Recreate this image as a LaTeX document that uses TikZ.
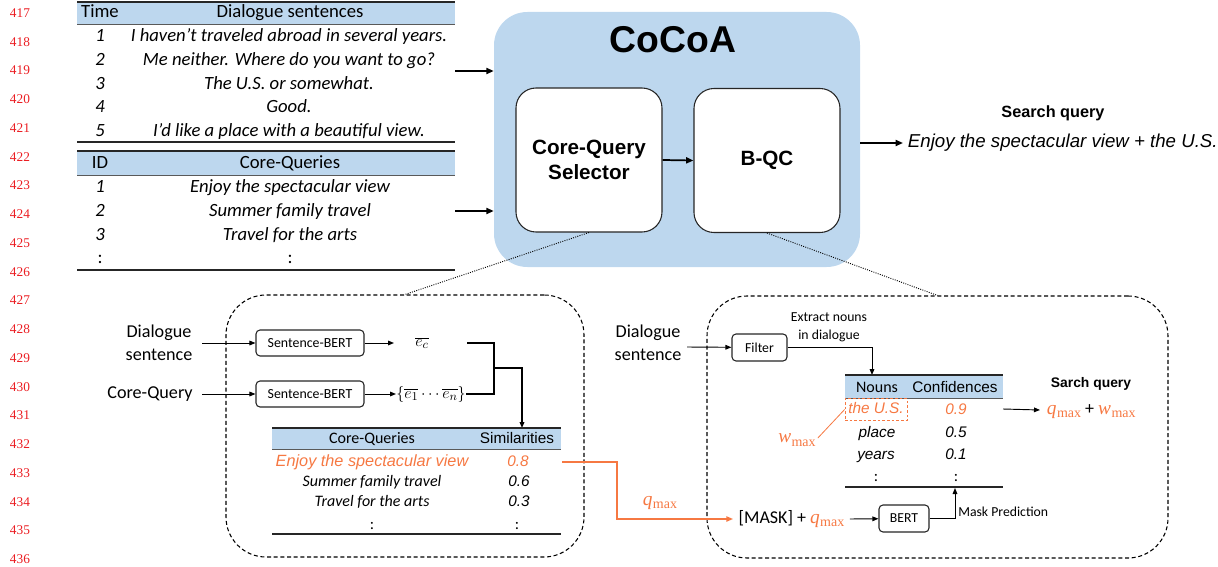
\documentclass[tikz,border=0pt]{standalone}
\usepackage[no-math]{fontspec}
\setmainfont{Carlito}
\newfontfamily\arial{Liberation Sans}
\newfontfamily\tms{Liberation Serif}
\usetikzlibrary{arrows.meta}
\definecolor{hdr}{RGB}{189,215,238}
\definecolor{org}{RGB}{246,120,66}
\definecolor{lnred}{RGB}{235,30,35}
\newcommand{\fsz}[2]{\fontsize{#1}{#2}\selectfont}
\newcommand{\qmx}{{\color{org}\tms\fsz{14.5}{17}\itshape q\kern0.3pt\raisebox{-2.6pt}{\fsz{10.5}{12}\upshape max}}}
\newcommand{\wmx}{{\color{org}\tms\fsz{14.5}{17}\itshape w\kern0.3pt\raisebox{-2.6pt}{\fsz{10.5}{12}\upshape max}}}
\begin{document}
\begin{tikzpicture}[x=0.75pt,y=-0.75pt,
  tt/.style={inner sep=0pt,text height=0.75em,text depth=0.1em},
  big/.style={tt,font=\fsz{14}{17}},
  bigi/.style={tt,font=\fsz{14}{17}\itshape},
  mid/.style={tt,font=\fsz{12}{14}},
  midi/.style={tt,font=\fsz{12}{14}\itshape},
  amid/.style={tt,font=\arial\fsz{11.5}{14}},
  amidi/.style={tt,font=\arial\fsz{11.5}{14}\itshape},
  small/.style={font=\fsz{10.3}{13.5}},
  lab/.style={font=\fsz{13.6}{17.2},align=center,inner sep=0pt},
  ln/.style={font=\tms\fsz{10}{12},text=lnred,inner sep=0pt},
  tline/.style={draw=black!85,line width=0.9pt},
  hline/.style={draw=black!65,line width=0.7pt},
  arr/.style={-{Triangle[length=5.5pt,width=4.5pt]},line width=1.3pt},
  sarr/.style={-{Triangle[length=4.5pt,width=3.5pt]},line width=0.7pt},
  oarr/.style={-{Triangle[length=5pt,width=4pt]},line width=1pt,draw=org},
  rbox/.style={draw=black!85,line width=0.8pt,rounded corners=3pt,fill=white,inner sep=0pt},
  bigbox/.style={draw=black!85,line width=0.8pt,rounded corners=15pt,fill=white,minimum width=109.5pt,minimum height=108pt,align=center,font=\arial\bfseries\fsz{15.5}{19}},
  dbox/.style={draw=black,dashed,dash pattern=on 3pt off 2pt,line width=0.8pt,rounded corners=30pt,inner sep=0pt},
  dots/.style={densely dotted,line width=0.7pt},
  mth/.style={font=\fsz{14.4}{17},inner sep=0pt},
]
\useasboundingbox (0,0) rectangle (1218,567);

% line numbers
\foreach \n [count=\i from 0] in {417,...,436}
  \node[ln] (ln\n) at (20,13+28.75*\i) {\n};

% ---------- table 1 ----------
\fill[hdr] (77,2) rectangle (455,24);
\draw[tline] (77,2) -- (455,2);
\draw[hline] (77,24) -- (455,24);
\draw[tline] (77,142) -- (455,142);
\node[big] (th1) at (100,13) {Time};
\node[big] (th2) at (290,13) {Dialogue sentences};
\foreach \i/\y/\s in {1/37/{I haven’t traveled abroad in several years.},
                      2/61/{Me neither. Where do you want to go?},
                      3/85/{The U.S. or somewhat.},
                      4/108/{Good.},
                      5/132/{I’d like a place with a beautiful view.}}{
  \node[bigi] (tn\i) at (100,\y) {\i};
  \node[bigi] (ts\i) at (289,\y) {\s};
}
% ---------- table 2 ----------
\fill[hdr] (77,151) rectangle (455,175);
\draw[tline] (77,151) -- (455,151);
\draw[hline] (77,175) -- (455,175);
\draw[tline] (77,270) -- (455,270);
\node[big] (qh1) at (100,164) {ID};
\node[big] (qh2) at (290,164) {Core-Queries};
\foreach \i/\y/\s in {1/188/{Enjoy the spectacular view},
                      2/212/{Summer family travel},
                      3/236/{Travel for the arts}}{
  \node[bigi] (qn\i) at (100,\y) {\i};
  \node[bigi] (qs\i) at (290,\y) {\s};
}
\node[big] (qn4) at (100,259) {:};
\node[big] (qs4) at (290,259) {:};

% ---------- CoCoA ----------
\node[fill=hdr,rounded corners=25pt,minimum width=274.5pt,minimum height=191.25pt,inner sep=0pt] (cocoa) at (677,139.5) {};
\node[tt,font=\arial\bfseries\fsz{28}{32}] (cocoat) at (673,48) {CoCoA};
\node[bigbox] (cqs) at (589,160) {Core-Query\\Selector};
\node[bigbox] (bqc) at (767,160.5) {\raisebox{-4pt}{B-QC}};
\draw[arr] (cqs.east) -- (bqc.west);
\coordinate (t1e) at (455,71);
\coordinate (t2e) at (455,211);
\draw[arr] (t1e) -- (t1e -| cocoa.west);
\draw[arr] (t2e) -- (t2e -| cocoa.west);

\node[tt,font=\arial\bfseries\fsz{12.2}{14}] (sqh) at (1053,113) {Search query};
\node[tt,inner xsep=3.5pt,anchor=west,font=\arial\itshape\fsz{14}{17}] (outq) at (903,143) {Enjoy the spectacular view + the U.S.};
\draw[arr] (cocoa.east |- outq.west) -- (outq.west);

% ---------- dashed detail boxes ----------
\node[dbox,minimum width=268.5pt,minimum height=196.5pt] (lbox) at (405,426) {};
\node[dbox,minimum width=345.75pt,minimum height=196.5pt] (rbox) at (937.5,427) {};
\draw[dots] (cqs.south) -- (lbox.north);
\draw[dots] (bqc.south) -- (rbox.north);

% ---------- left detail ----------
\node[lab] (dsL) at (159,343) {Dialogue\\sentence};
\node[lab] (cqL) at (150,394) {Core-Query};
\coordinate (dsLo) at (202,343);
\coordinate (cqLo) at (202,394);
\node[rbox,minimum width=81pt,minimum height=19.5pt,font=\fsz{10.4}{12}] (sb1) at (310,343) {Sentence-BERT};
\node[rbox,minimum width=81pt,minimum height=19.5pt,font=\fsz{10.4}{12}] (sb2) at (310,394) {Sentence-BERT};
\draw[sarr] (dsLo) -- (sb1);
\draw[sarr] (cqLo) -- (sb2);
\node[mth,font=\fsz{12.5}{15}] (ec) at (422,343) {$\overline{e_c}$};
\coordinate (ecin) at (394,343);
\draw[sarr] (sb1) -- (ecin);
\node[mth,font=\fsz{12.5}{15},anchor=west] (en) at (396,394) {$\{\overline{e_1}\cdots\overline{e_n}\}$};
\draw[sarr] (sb2) -- (en);
\coordinate (j1) at (467,343);
\coordinate (j2) at (494,368);
\coordinate (j3) at (466,394);
\coordinate (simtop) at (522,428);
\draw[line width=0.8pt] (j1) -| (j2) |- (j3);
\draw[sarr,line width=1pt] (j2) -| (simtop);

\fill[hdr] (272,428) rectangle (561,449);
\draw[tline] (272,428) -- (561,428);
\draw[hline] (272,449) -- (561,449);
\draw[tline] (272,534) -- (561,534);
\node[mid] (sh1) at (372,439) {Core-Queries};
\node[amid] (sh2) at (517,439) {Similarities};
\node[amidi,text=org,font=\arial\itshape\fsz{12.2}{14}] (sr1) at (372,462) {Enjoy the spectacular view};
\node[amidi,text=org] (sv1) at (518,462) {0.8};
\node[midi] (sr2) at (372,482) {Summer family travel};
\node[amidi] (sv2) at (519,482) {0.6};
\node[midi] (sr3) at (372,502) {Travel for the arts};
\node[amidi] (sv3) at (519,502) {0.3};
\node[mid] (sr4) at (372,525) {:};
\node[mid] (sv4) at (517,525) {:};

% orange q_max connector
\coordinate (o1) at (562,462);
\node[tt,inner xsep=4pt,anchor=west,font=\fsz{13.5}{16}] (mask) at (733,519) {[MASK] + \qmx};
\draw[oarr] (o1) -- ++(55,0) |- (mask.west);
\node[inner sep=0pt] (qlab) at (660,503) {\qmx};

% ---------- right detail ----------
\node[lab] (dsR) at (648,343) {Dialogue\\sentence};
\coordinate (dsRo) at (687,347);
\node[rbox,minimum width=41.25pt,minimum height=20.25pt,font=\fsz{10.3}{12}] (filter) at (759.5,347.5) {Filter};
\draw[sarr] (dsRo) -- (filter);
\coordinate (ntop) at (872,375);
\draw[sarr] (filter.east) -| (ntop);
\node[small,align=center,inner sep=0pt] (extract) at (829,327) {Extract nouns\\in dialogue};

\fill[hdr] (845,375) rectangle (1003,398);
\draw[tline] (845,375) -- (1003,375);
\draw[hline] (845,398) -- (1003,398);
\draw[tline] (845,487) -- (1003,487);
\node[mid] (nh1) at (877,388) {Nouns};
\node[amid] (nh2) at (955,388) {Confidences};
\node[amidi,text=org,draw=org,dashed,dash pattern=on 2pt off 1.5pt,line width=0.6pt,minimum width=46.5pt,minimum height=16.5pt] (us) at (876,409.5) {the U.S.};
\node[amidi,text=org] (nv1) at (956,410) {0.9};
\node[amidi] (nr2) at (877,433) {place};
\node[amidi] (nv2) at (956,433) {0.5};
\node[amidi] (nr3) at (876,455) {years};
\node[amidi] (nv3) at (956,455) {0.1};
\node[mid] (nr4) at (876,477) {:};
\node[mid] (nv4) at (956,477) {:};
\node[inner sep=0pt] (wmax) at (797,440) {\wmx};
\draw[org,line width=0.6pt,shorten <=2pt] (wmax.east) -- (us.west);

\coordinate (nout) at (1003,409);
\node[tt,inner xsep=5pt,anchor=west,font=\fsz{13.5}{16}] (sq) at (1040,410) {\qmx\ + \wmx};
\draw[sarr] (nout) -- (sq.west);
\node[tt,font=\arial\bfseries\fsz{10.4}{12}] (sqt) at (1091,383) {Sarch query};

\node[rbox,minimum width=37.5pt,minimum height=20.25pt,font=\fsz{10.3}{12}] (bert) at (904,518.5) {BERT};
\draw[sarr] (mask.east) -- (bert);
\coordinate (nbot) at (955,488);
\draw[sarr] (bert.east) -| (nbot);
\node[small,anchor=west,inner sep=0pt] (mp) at (958,512) {Mask Prediction};
\end{tikzpicture}
\end{document}
